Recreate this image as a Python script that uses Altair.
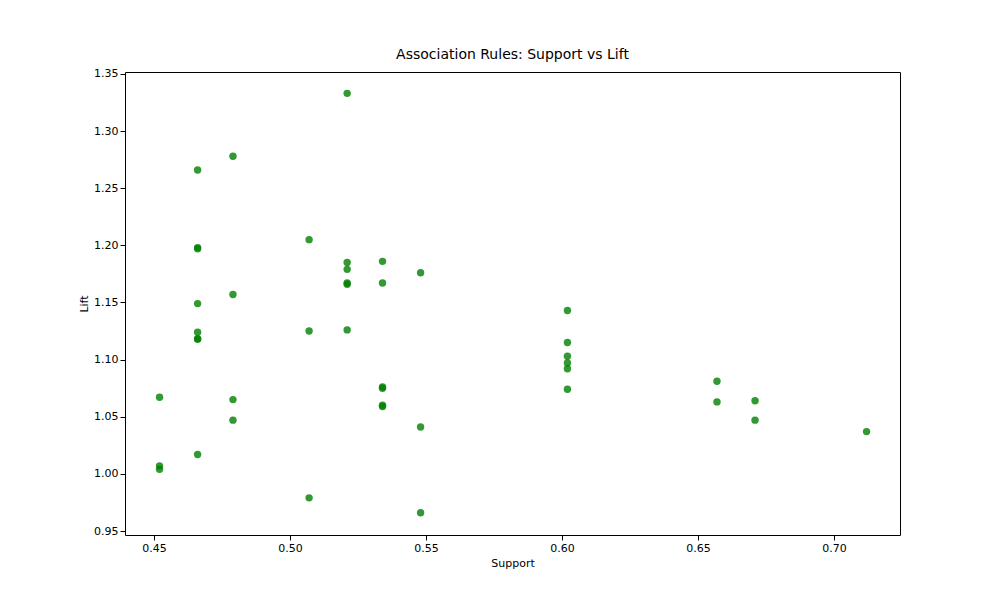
import altair as alt
import pandas as pd

# support / lift values
support = (
    [0.452] * 3
    + [0.466] * 8
    + [0.479] * 4
    + [0.507] * 3
    + [0.521] * 6
    + [0.534] * 6
    + [0.548] * 3
    + [0.602] * 6
    + [0.657] * 2
    + [0.671] * 2
    + [0.712]
)
lift = [
    1.067, 1.007, 1.004,
    1.266, 1.198, 1.197, 1.149, 1.124, 1.118, 1.118, 1.017,
    1.278, 1.157, 1.065, 1.047,
    1.205, 1.125, 0.979,
    1.333, 1.185, 1.179, 1.167, 1.166, 1.126,
    1.186, 1.167, 1.076, 1.075, 1.060, 1.059,
    1.176, 1.041, 0.966,
    1.143, 1.115, 1.103, 1.097, 1.092, 1.074,
    1.081, 1.063,
    1.064, 1.047,
    1.037,
]

data = pd.DataFrame({"Support": support, "Lift": lift})

chart = alt.Chart(data).mark_circle(
    color="green", opacity=0.8, size=55
).encode(
    x=alt.X(
        "Support:Q",
        scale=alt.Scale(domain=[0.4393, 0.7243], nice=False, zero=False),
        axis=alt.Axis(values=[0.45, 0.5, 0.55, 0.6, 0.65, 0.7], format=".2f", grid=False),
    ),
    y=alt.Y(
        "Lift:Q",
        scale=alt.Scale(domain=[0.9465, 1.3517], nice=False, zero=False),
        axis=alt.Axis(values=[0.95, 1.0, 1.05, 1.1, 1.15, 1.2, 1.25, 1.3, 1.35], format=".2f", grid=False),
    ),
).properties(
    width=775,
    height=463,
    title=alt.Title("Association Rules: Support vs Lift", fontSize=14, fontWeight="normal"),
    autosize=alt.AutoSizeParams(type="none"),
    padding={"left": 117, "top": 64, "right": 80, "bottom": 50},
).configure_view(
    stroke="black", strokeWidth=1
).configure_axis(
    domain=False, labelFontSize=11, titleFontSize=11, titleFontWeight="normal",
    labelColor="black", titleColor="black", tickColor="black",
    labelFont="DejaVu Sans", titleFont="DejaVu Sans",
).configure_title(font="DejaVu Sans", offset=6)

chart.save("out.html", embed_options={"renderer": "svg", "actions": False})
